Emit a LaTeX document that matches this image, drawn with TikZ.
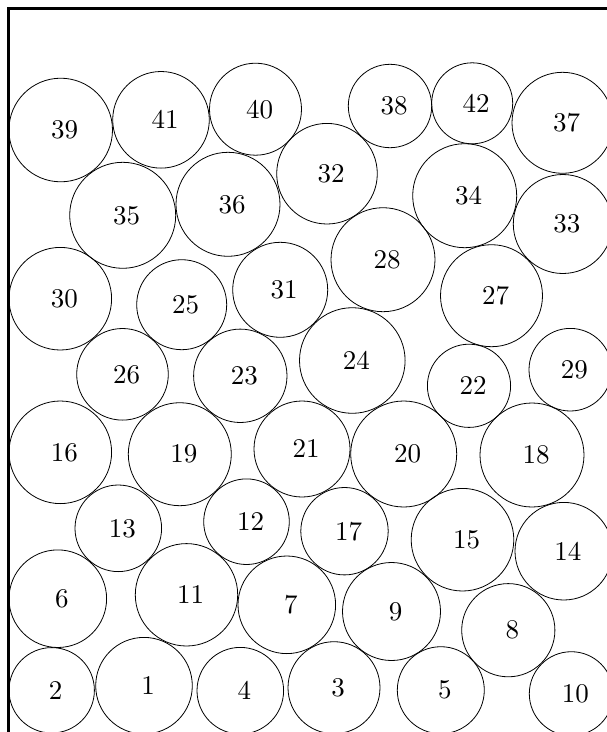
\documentclass[tikz,border=0pt]{standalone}
\begin{document}
\begin{tikzpicture}[x=1pt,y=-1pt,
  ball/.style={circle,draw=black,line width=0.8pt,inner sep=0pt,outer sep=0pt},
  num/.style={inner sep=0pt,font=\normalsize},
  frame/.style={draw=black,line width=2.8pt}]
\useasboundingbox (0,0) rectangle (607,732);
\clip (0,0) rectangle (607,732);
\draw[frame] (8.2,800) -- (8.2,8.5) -- (700,8.5);
\newcommand\ball[4]{%
  \node[ball,minimum size={2*#4pt}] (c#1) at (#2,#3) {};
  \node[num] (t#1) at ({#2+4},#3) {\scalebox{2.7}{#1}};}
\ball{1}{144}{685.7}{48.3}
\ball{2}{51.7}{690.3}{42.7}
\ball{3}{334}{687.7}{46}
\ball{4}{240.3}{690.7}{43.3}
\ball{5}{440.8}{690.2}{43.5}
\ball{6}{57.8}{598.7}{48.8}
\ball{7}{286.8}{604.8}{48.8}
\ball{8}{508.3}{630.2}{46.6}
\ball{9}{391.5}{611.5}{49}
\ball{10}{571.3}{693.7}{42}
\ball{11}{186.5}{594.8}{51.2}
\ball{12}{246.5}{521.7}{42.8}
\ball{13}{118.3}{528.3}{43.3}
\ball{14}{563.8}{551.2}{48.8}
\ball{15}{462.5}{539.7}{51.3}
\ball{16}{60.3}{452.3}{51.3}
\ball{17}{344.5}{531.2}{43.7}
\ball{18}{532}{455}{52}
\ball{19}{179.8}{454.2}{51.5}
\ball{20}{403.7}{454}{53}
\ball{21}{302}{449}{48}
\ball{22}{469}{385.8}{41.6}
\ball{23}{240.3}{375.8}{46.7}
\ball{24}{352.3}{360.5}{52.8}
\ball{25}{181.7}{304.7}{45}
\ball{26}{122.5}{374.3}{45.8}
\ball{27}{491.5}{295.7}{51}
\ball{28}{383}{259.7}{52}
\ball{29}{570.3}{369.7}{41.3}
\ball{30}{60.3}{298.7}{51.3}
\ball{31}{280.2}{289.8}{47.5}
\ball{32}{327}{173.7}{50.3}
\ball{33}{562.8}{224}{49.5}
\ball{34}{464.7}{195.7}{52}
\ball{35}{122.7}{215.3}{53}
\ball{36}{228}{204.3}{52}
\ball{37}{562.5}{122.8}{50.5}
\ball{38}{390}{106}{41.7}
\ball{39}{60.7}{130}{51.8}
\ball{40}{255.5}{109.2}{46}
\ball{41}{161}{119.8}{48.3}
\ball{42}{472.2}{103.3}{40.5}
\end{tikzpicture}
\end{document}
